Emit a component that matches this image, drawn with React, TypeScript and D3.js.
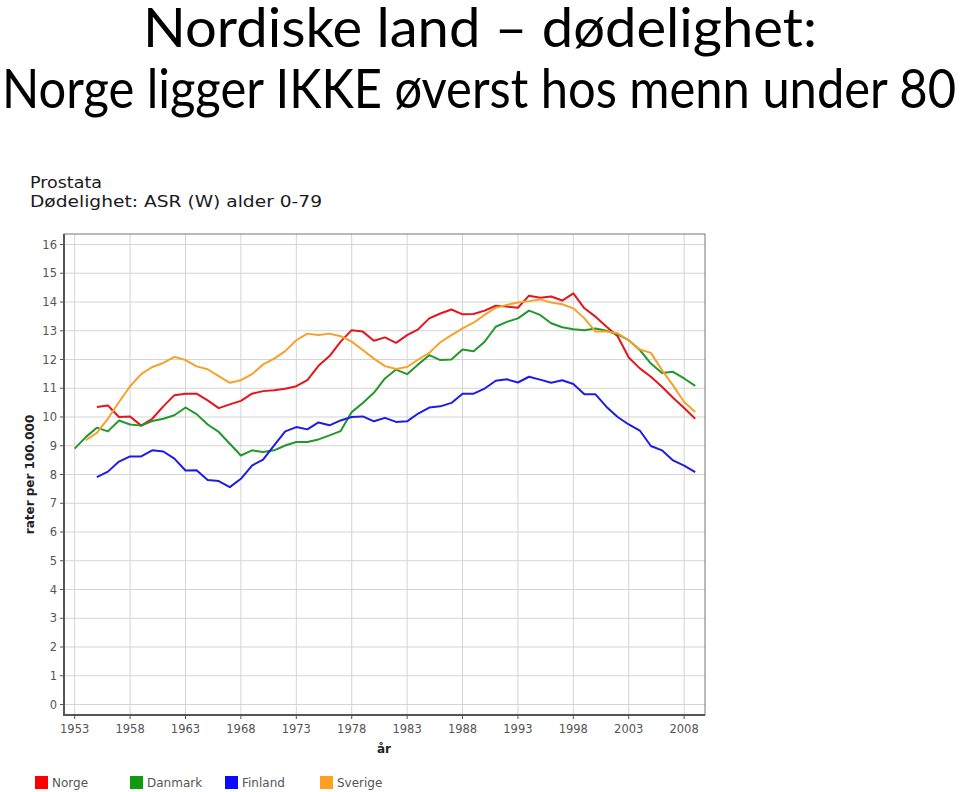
import React from "react";
import * as d3 from "d3";

const years: number[] = d3.range(1953, 2010);

// values per year 1953..2009 (null = no data)
const norge: (number | null)[] = [
  null, null, 10.35, 10.4, 10.0, 10.02, 9.7, 9.94, 10.37, 10.76,
  10.81, 10.81, 10.58, 10.31, 10.44, 10.56, 10.81, 10.9, 10.93, 10.98,
  11.07, 11.28, 11.78, 12.12, 12.62, 13.02, 12.97, 12.65, 12.77, 12.58,
  12.85, 13.05, 13.43, 13.6, 13.74, 13.57, 13.58, 13.7, 13.87, 13.84,
  13.8, 14.22, 14.15, 14.19, 14.05, 14.3, 13.78, 13.49, 13.14, 12.81,
  12.07, 11.69, 11.4, 11.05, 10.67, 10.31, 9.94,
];
const danmark: (number | null)[] = [
  8.9, 9.3, 9.63, 9.5, 9.88, 9.74, 9.7, 9.86, 9.94, 10.06,
  10.33, 10.1, 9.74, 9.48, 9.07, 8.66, 8.84, 8.78, 8.84, 9.01,
  9.13, 9.13, 9.22, 9.36, 9.51, 10.17, 10.49, 10.84, 11.34, 11.65,
  11.49, 11.83, 12.15, 11.98, 12.0, 12.35, 12.29, 12.62, 13.14, 13.31,
  13.43, 13.7, 13.55, 13.26, 13.12, 13.05, 13.02, 13.08, 13.0, 12.87,
  12.67, 12.33, 11.86, 11.53, 11.57, 11.34, 11.08,
];
const finland: (number | null)[] = [
  null, null, 7.91, 8.1, 8.45, 8.63, 8.63, 8.84, 8.8, 8.55,
  8.14, 8.15, 7.81, 7.77, 7.56, 7.85, 8.31, 8.52, 9.01, 9.5,
  9.65, 9.57, 9.81, 9.71, 9.88, 10.0, 10.02, 9.85, 9.97, 9.83,
  9.85, 10.12, 10.33, 10.37, 10.49, 10.81, 10.81, 10.99, 11.26, 11.31,
  11.2, 11.4, 11.3, 11.19, 11.28, 11.15, 10.79, 10.79, 10.35, 10.0,
  9.74, 9.53, 8.99, 8.84, 8.49, 8.31, 8.08,
];
const sverige: (number | null)[] = [
  null, 9.19, 9.45, 9.94, 10.52, 11.07, 11.49, 11.74, 11.88, 12.09,
  11.98, 11.76, 11.66, 11.42, 11.19, 11.28, 11.49, 11.83, 12.03, 12.29,
  12.67, 12.9, 12.85, 12.9, 12.81, 12.62, 12.33, 12.03, 11.77, 11.67,
  11.74, 12.0, 12.23, 12.6, 12.85, 13.08, 13.28, 13.55, 13.8, 13.9,
  13.98, 14.03, 14.09, 13.98, 13.92, 13.78, 13.43, 12.97, 12.97, 12.91,
  12.67, 12.35, 12.23, 11.63, 11.1, 10.52, 10.17,
];

const seriesNames: string[] = ["Norge", "Danmark", "Finland", "Sverige"];
const seriesValues = [norge, danmark, finland, sverige];
const lineColors: string[] = ["#e4151b", "#23982a", "#1c1ce8", "#f6a22a"];
const legendColors: string[] = ["#ff0000", "#109a10", "#0a0aff", "#ffa020"];

const xTicks: number[] = d3.range(1953, 2009, 5);
const yTicks: number[] = d3.range(0, 17, 1);

export default function App() {
  const plot = { left: 64, right: 705, top: 234, bottom: 715 };
  const x = d3.scaleLinear().domain([1952, 2010]).range([63.6, 706.3]);
  const y = d3.scaleLinear().domain([-0.365, 16.365]).range([plot.bottom, plot.top]);

  const line = d3
    .line<[number, number | null]>()
    .defined((d) => d[1] !== null)
    .x((d) => x(d[0]))
    .y((d) => y(d[1] as number));

  const tickFont = "'DejaVu Sans', Verdana, sans-serif";

  return (
    <svg
      width={960}
      height={792}
      style={{ position: "absolute", left: 0, top: 0, background: "#fff" }}
    >
      <rect x={0} y={0} width={960} height={792} fill="#fff" />
      {/* Slide title */}
      <text
        x={143}
        y={47}
        fontFamily="Lato, 'Open Sans', sans-serif"
        fontSize={54}
        fill="#000"
        textLength={674}
        lengthAdjust="spacingAndGlyphs"
      >
        Nordiske land – dødelighet:
      </text>
      <text
        x={2}
        y={108}
        fontFamily="Lato, 'Open Sans', sans-serif"
        fontSize={54}
        fill="#000"
        textLength={954}
        lengthAdjust="spacingAndGlyphs"
      >
        Norge ligger IKKE øverst hos menn under 80
      </text>

      {/* Chart heading */}
      <text x={30} y={188} fontFamily={tickFont} fontSize={16.5} fill="#1a1a1a" textLength={72} lengthAdjust="spacingAndGlyphs">
        Prostata
      </text>
      <text x={30} y={207} fontFamily={tickFont} fontSize={16.5} fill="#1a1a1a" textLength={292} lengthAdjust="spacingAndGlyphs">
        Dødelighet: ASR (W) alder 0-79
      </text>

      {/* grid */}
      {yTicks.map((t) => (
        <line key={"gy" + t} x1={plot.left} x2={plot.right} y1={y(t)} y2={y(t)} stroke="#d4d4d4" strokeWidth={1} />
      ))}
      {xTicks.map((t) => (
        <line key={"gx" + t} x1={x(t)} x2={x(t)} y1={plot.top} y2={plot.bottom} stroke="#d4d4d4" strokeWidth={1} />
      ))}
      {/* box */}
      <rect x={plot.left} y={plot.top} width={plot.right - plot.left} height={plot.bottom - plot.top} fill="none" stroke="#777" strokeWidth={1} />
      <line x1={plot.left} x2={plot.left} y1={plot.top} y2={plot.bottom + 1} stroke="#555" strokeWidth={2} />
      <line x1={plot.left - 1} x2={plot.right} y1={plot.bottom} y2={plot.bottom} stroke="#555" strokeWidth={2} />

      {/* y ticks */}
      {yTicks.map((t) => (
        <g key={"ty" + t}>
          <line x1={plot.left - 4} x2={plot.left} y1={y(t)} y2={y(t)} stroke="#555" strokeWidth={1} />
          <text x={plot.left - 7} y={y(t)} dy="0.35em" textAnchor="end" fontFamily={tickFont} fontSize={11.5} fill="#555">
            {t}
          </text>
        </g>
      ))}
      {/* x ticks */}
      {xTicks.map((t) => (
        <g key={"tx" + t}>
          <line x1={x(t)} x2={x(t)} y1={plot.bottom} y2={plot.bottom + 4} stroke="#555" strokeWidth={1} />
          <text x={x(t)} y={plot.bottom + 18} textAnchor="middle" fontFamily={tickFont} fontSize={11.5} fill="#555">
            {t}
          </text>
        </g>
      ))}

      {/* axis titles */}
      <text x={384} y={753} textAnchor="middle" fontFamily={tickFont} fontSize={12} fontWeight="bold" fill="#222">
        år
      </text>
      <text
        transform={`translate(34, ${y(8)}) rotate(-90)`}
        textAnchor="middle"
        fontFamily={tickFont}
        fontSize={12}
        fontWeight="bold"
        fill="#222"
      >
        rater per 100.000
      </text>

      {/* lines */}
      {seriesValues.map((vals, i) => (
        <path
          key={seriesNames[i]}
          d={line(years.map((yr, j) => [yr, vals[j]] as [number, number | null])) || ""}
          fill="none"
          stroke={lineColors[i]}
          strokeWidth={2}
          strokeLinejoin="round"
        />
      ))}

      {/* legend */}
      {seriesNames.map((name, i) => (
        <g key={"lg" + name} transform={`translate(${35 + i * 95}, 776)`}>
          <rect x={0} y={0} width={13} height={13} fill={legendColors[i]} />
          <text x={17} y={11} fontFamily={tickFont} fontSize={12} fill="#555">
            {name}
          </text>
        </g>
      ))}
    </svg>
  );
}
